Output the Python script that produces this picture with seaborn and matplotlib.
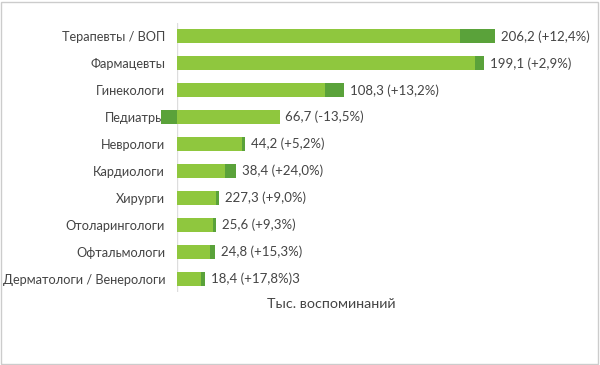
import numpy as np
import pandas as pd
import matplotlib
matplotlib.use("Agg")
import matplotlib.pyplot as plt
import seaborn as sns
from matplotlib.patches import Rectangle

sns.set_style("white")
plt.rcParams['font.family'] = ['Lato', 'DejaVu Sans']

# Данные
categories = ['Терапевты / ВОП', 'Фармацевты', 'Гинекологи', 'Педиатры', 'Неврологи',
              'Кардиологи', 'Хирурги', 'Отоларингологи', 'Офтальмологи',
              'Дерматологи / Венерологи']
base = [183.5, 193.5, 95.7, 66.7, 42.0, 31.0, 25.0, 23.4, 21.5, 15.6]
delta = [22.7, 5.6, 12.6, -10.4, 2.2, 7.4, 2.3, 2.2, 3.3, 2.8]
labels = ['206,2 (+12,4%)', '199,1 (+2,9%)', '108,3 (+13,2%)', '66,7 (-13,5%)',
          '44,2 (+5,2%)', '38,4 (+24,0%)', '227,3 (+9,0%)', '25,6 (+9,3%)',
          '24,8 (+15,3%)', '18,4 (+17,8%)3']

df = pd.DataFrame({'cat': categories, 'base': base, 'delta': delta, 'label': labels})
df['dark'] = np.where(df['delta'] > 0, df['base'] + df['delta'], df['delta'])
df['end'] = np.maximum(df['base'], df['base'] + df['delta'])

light_c = '#8fc73e'
dark_c = '#5aa23a'
text_c = '#444444'

fig = plt.figure(figsize=(6, 3.65), dpi=100)
ax = fig.add_axes([177 / 600, 0.2, 413 / 600, 269 / 365])

sns.barplot(data=df, x='dark', y='cat', color=dark_c, width=0.52, saturation=1,
            orient='h', linewidth=0, ax=ax)
sns.barplot(data=df, x='base', y='cat', color=light_c, width=0.52, saturation=1,
            orient='h', linewidth=0, ax=ax)
for p in ax.patches:
    p.set_clip_on(False)

ax.set_xlim(0, 267.8)
ax.set_ylim(9.5, -0.5)
ax.axvline(0, color='#dddddd', lw=1, zorder=0)

for i, row in df.iterrows():
    ax.annotate(row['label'], (row['end'], i), xytext=(4, 0), textcoords='offset points',
                va='center', ha='left', fontsize=9.5, color=text_c)

for s in ax.spines.values():
    s.set_visible(False)
ax.set_xticks([])
ax.set_ylabel('')
ax.set_xlabel('')
ax.tick_params(axis='y', length=0, labelsize=9.2, labelcolor=text_c, pad=8.5)

fig.text(331 / 600, 1 - 304 / 365, 'Тыс. воспоминаний', ha='center', va='center',
         fontsize=10.3, color=text_c)

fig.patches.append(Rectangle((0.002, 0.004), 0.994, 0.99, transform=fig.transFigure,
                             fill=False, edgecolor='#cccccc', lw=1))

fig.savefig('out.png', dpi=100)
